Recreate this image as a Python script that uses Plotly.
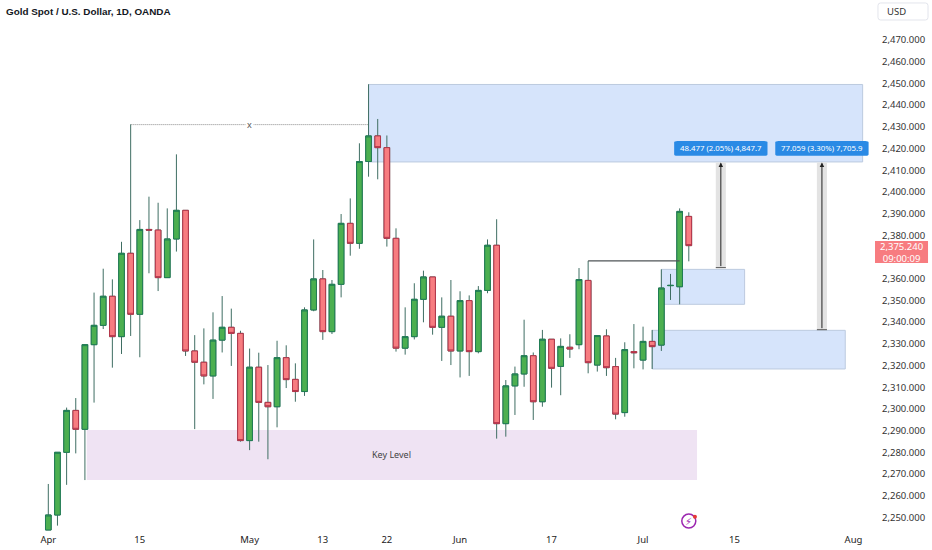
import plotly.graph_objects as go

opens = [2244.2, 2251.1, 2280, 2299.3, 2290.6, 2329.6, 2338.5, 2351.9, 2333.3, 2371.7, 2343.6, 2382.7, 2382.4, 2360.5, 2378.3,
         2391.5, 2326.7, 2321.5, 2315.2, 2331.7, 2337.6, 2334.8, 2285.4, 2319.2, 2303, 2301, 2323.6, 2313.6, 2308, 2345.6,
         2359.9, 2335.6, 2357.4, 2385.5, 2376.3, 2414, 2425.8, 2420.4, 2378.6, 2328, 2333.3, 2350.5, 2360.8, 2337.6, 2342.7,
         2326.7, 2349.9, 2326.4, 2354.6, 2375.4, 2293.2, 2310.6, 2316.1, 2324.5, 2303.3, 2332.1, 2319.6, 2328.4, 2329.6, 2359.2,
         2320.2, 2333.6, 2319.5, 2298.3, 2326.4, 2322.5, 2331.1, 2329.4, 2356.8, 2356.3, 2388.7]
highs = [2265.4, 2280, 2300.6, 2305, 2329.6, 2353.6, 2364.6, 2359.7, 2377, 2431.1, 2387, 2397.8, 2395, 2392.4, 2417.3,
         2391.5, 2334, 2337.1, 2344.5, 2352, 2346.2, 2336, 2327.8, 2325.9, 2320.2, 2331.4, 2329.3, 2321, 2346.8, 2378.1,
         2364, 2359.4, 2389.8, 2397, 2422.4, 2449.6, 2433.6, 2426, 2383.2, 2346.8, 2357.9, 2363.7, 2360.8, 2351.4, 2359.4,
         2354.2, 2352.3, 2356.6, 2378.1, 2387.4, 2313.3, 2319.5, 2341.1, 2326, 2336.4, 2332.1, 2332.5, 2334.4, 2364.9, 2368.2,
         2333.8, 2336.7, 2323.5, 2330.7, 2339.1, 2337.9, 2336.4, 2364.3, 2362.2, 2392.4, 2390.6]
lows = [2244.2, 2246.2, 2265, 2279.5, 2267.2, 2302.9, 2336.8, 2319, 2325.3, 2333.6, 2323.8, 2362.5, 2354.3, 2360.5, 2372.5,
        2324.4, 2290.7, 2311.3, 2304.6, 2326, 2319.8, 2284.9, 2281, 2284.9, 2276.8, 2291.5, 2309.6, 2303.3, 2306, 2345,
        2331.8, 2334.5, 2351.4, 2370.6, 2373.8, 2407, 2405.8, 2374.8, 2326.4, 2325, 2332, 2339.9, 2334.2, 2322.1, 2320.2,
        2314.5, 2315.2, 2325.6, 2353.3, 2286.3, 2287.2, 2297.2, 2310.2, 2294.9, 2301, 2309.8, 2306.3, 2323.5, 2327.5, 2316.4,
        2317.2, 2315.2, 2295.2, 2296.4, 2318.7, 2318.2, 2318.4, 2326.7, 2350.2, 2348.2, 2368]
closes = [2251.1, 2280, 2299.3, 2290.6, 2329.6, 2338.5, 2351.9, 2333.3, 2371.7, 2343.6, 2382.7, 2382.4, 2360.5, 2378.3, 2391.5,
          2326.7, 2321.5, 2315.2, 2331.7, 2337.6, 2334.8, 2285.4, 2319.2, 2303, 2301, 2323.6, 2313.5, 2308, 2345.6, 2359.9,
          2335.6, 2357.4, 2385.5, 2376.3, 2414, 2425.8, 2420.4, 2378.6, 2328, 2333.3, 2350.5, 2360.8, 2337.6, 2342.7, 2326.7,
          2349.9, 2326.4, 2354.6, 2375.4, 2293.2, 2310.6, 2316.1, 2324.5, 2303.3, 2332.1, 2318.7, 2328.8, 2327.6, 2359.6, 2321.3,
          2333.8, 2319, 2297.6, 2327.3, 2325.9, 2331.1, 2328.7, 2355.7, 2356.9, 2391, 2375.24]

bar_index = list(range(len(opens)))
x_tick_pos = [0, 10, 22, 30, 37, 45, 55, 65, 75, 88]
x_tick_text = ['Apr', '15', 'May', '13', '22', 'Jun', '17', 'Jul', '15', 'Aug']
# 2,370 sits behind the price tag in the reference
y_ticks = [t for t in range(2250, 2480, 10) if t != 2370]

# zones: x start, x end, price top, price bottom
blue_zones = [(35, 89, 2449.5, 2413.8), (67, 76.1, 2364.3, 2348.2), (66, 87.1, 2336.2, 2318.4)]
key_zone = (4.2, 70.9, 2290.3, 2267.2)
measures = [(73.5, 2365.1, 2413.6, '48.477 (2.05%) 4,847.7'), (84.55, 2336.5, 2413.6, '77.059 (3.30%) 7,705.9')]

FONT = 'Noto Sans'
UP, DOWN = '#4caf50', '#f77c80'


def round_rect(x0, x1, y0, y1, rx, ry):
    return (f'M{x0 + rx},{y0} L{x1 - rx},{y0} Q{x1},{y0} {x1},{y0 + ry} L{x1},{y1 - ry} Q{x1},{y1} {x1 - rx},{y1} '
            f'L{x0 + rx},{y1} Q{x0},{y1} {x0},{y1 - ry} L{x0},{y0 + ry} Q{x0},{y0} {x0 + rx},{y0} Z')


fig = go.Figure()

# wicks first, bodies on top so that the two can have their own colour
fig.add_trace(go.Candlestick(
    x=bar_index, open=opens, high=highs, low=lows, close=closes,
    increasing=dict(line=dict(color='#3f6e63', width=1), fillcolor=UP),
    decreasing=dict(line=dict(color='#3f6e63', width=1), fillcolor=DOWN),
    whiskerwidth=0, showlegend=False
))
fig.add_trace(go.Candlestick(
    x=bar_index, open=opens, close=closes,
    high=[max(o, c) for o, c in zip(opens, closes)],
    low=[min(o, c) for o, c in zip(opens, closes)],
    increasing=dict(line=dict(color='#1f7d55', width=1), fillcolor=UP),
    decreasing=dict(line=dict(color='#b5344a', width=1), fillcolor=DOWN),
    whiskerwidth=0, showlegend=False
))

# lightning badge
fig.add_trace(go.Scatter(x=[70], y=[2248.3], mode='markers', showlegend=False, cliponaxis=False,
                         marker=dict(size=14, color='white', line=dict(color='#9c27b0', width=1.5))))
fig.add_trace(go.Scatter(x=[70.67], y=[2250.3], mode='markers', showlegend=False, cliponaxis=False,
                         marker=dict(size=4, color='#e53935')))

for x0, x1, top, bottom in blue_zones:
    fig.add_shape(type='rect', x0=x0, x1=x1, y0=bottom, y1=top, layer='below',
                  fillcolor='#d6e4fb', line=dict(color='#bccadf', width=1))
fig.add_shape(type='rect', x0=key_zone[0], x1=key_zone[1], y0=key_zone[3], y1=key_zone[2], layer='below',
              fillcolor='#efe3f3', line=dict(width=0))

# dotted swing high line and the level line
fig.add_shape(type='line', x0=9, x1=35, y0=2431, y1=2431, layer='below', line=dict(color='#8a8a8a', width=1, dash='1px,1px'))
fig.add_shape(type='line', x0=59, x1=69, y0=2368.2, y1=2368.2, line=dict(color='#4f5557', width=1.2))
fig.add_annotation(x=22, y=2431, text='x', showarrow=False, bgcolor='white', borderpad=1,
                   font=dict(family=FONT, size=9, color='#555'))
fig.add_annotation(x=37.5, y=2279, text='Key Level', showarrow=False, font=dict(family=FONT, size=9, color='#444'))

for x, bottom, top, label in measures:
    fig.add_shape(type='rect', x0=x - 0.55, x1=x + 0.55, y0=bottom, y1=top, layer='below',
                  fillcolor='#e3e3e3', line=dict(width=0))
    fig.add_shape(type='line', x0=x - 0.55, x1=x + 0.55, y0=bottom, y1=bottom, line=dict(color='#555', width=1))
    fig.add_annotation(x=x, y=top, ax=x, ay=bottom, axref='x', ayref='y', text='', showarrow=True,
                       arrowhead=2, arrowsize=0.9, arrowwidth=1, arrowcolor='#222')
    fig.add_shape(type='path', path=round_rect(x - 5.1, x + 5.1, 2416.7, 2423.5, 0.35, 0.7),
                  fillcolor='#2a8ae5', line=dict(width=0))
    fig.add_annotation(x=x, y=2420.1, text=label, showarrow=False, font=dict(family=FONT, size=7.8, color='white'))

# price tag on the axis
fig.add_shape(type='rect', xref='paper', x0=1, x1=1.0606, y0=2367.2, y1=2377.4, fillcolor=DOWN, line=dict(width=0))
fig.add_annotation(xref='paper', yref='paper', x=1.0303, y=0.5263, text='2,375.240<br>09:00:09', showarrow=False,
                   xanchor='center', yanchor='middle', font=dict(family=FONT, size=9.5, color='white'))

# currency box
fig.add_shape(type='path', xref='paper', yref='paper', path=round_rect(1.0034, 1.0606, 0.9624, 0.9944, 0.003, 0.005),
              fillcolor='white', line=dict(color='#e3e5ec', width=1))
fig.add_annotation(xref='paper', yref='paper', x=1.0114, y=0.978, xanchor='left', yanchor='middle', text='USD',
                   showarrow=False, font=dict(family=FONT, size=9.5, color='#333'))

fig.add_annotation(x=70, y=2248.1, text='⚡', showarrow=False, font=dict(family='DejaVu Sans', size=10, color='#9c27b0'))

fig.add_annotation(xref='paper', yref='paper', x=0.0045, y=0.979, xanchor='left', yanchor='middle', showarrow=False,
                   text='<b>Gold Spot / U.S. Dollar, 1D, OANDA</b>',
                   font=dict(family='Liberation Sans', size=9.9, color='#131722'))

fig.update_layout(
    width=932, height=550,
    margin=dict(l=0, r=57, t=0, b=18),
    paper_bgcolor='white', plot_bgcolor='white',
    boxgap=0.12,
    xaxis=dict(range=[-5.28, 90.35], tickmode='array', tickvals=x_tick_pos, ticktext=x_tick_text,
               showgrid=False, zeroline=False, showline=False, rangeslider=dict(visible=False),
               tickfont=dict(family=FONT, size=9.5, color='#222'), ticks=''),
    yaxis=dict(range=[2243.27, 2488.43], side='right', tickmode='array', tickvals=y_ticks, tickformat=',.3f',
               showgrid=False, zeroline=False, showline=False, ticks='', ticklabelstandoff=6,
               tickfont=dict(family=FONT, size=9.5, color='#333'))
)

# the page's default body margin would push the 932x550 figure off the window
fig.write_html("out.html", config=dict(displayModeBar=False), post_script="document.body.style.margin='0';")
